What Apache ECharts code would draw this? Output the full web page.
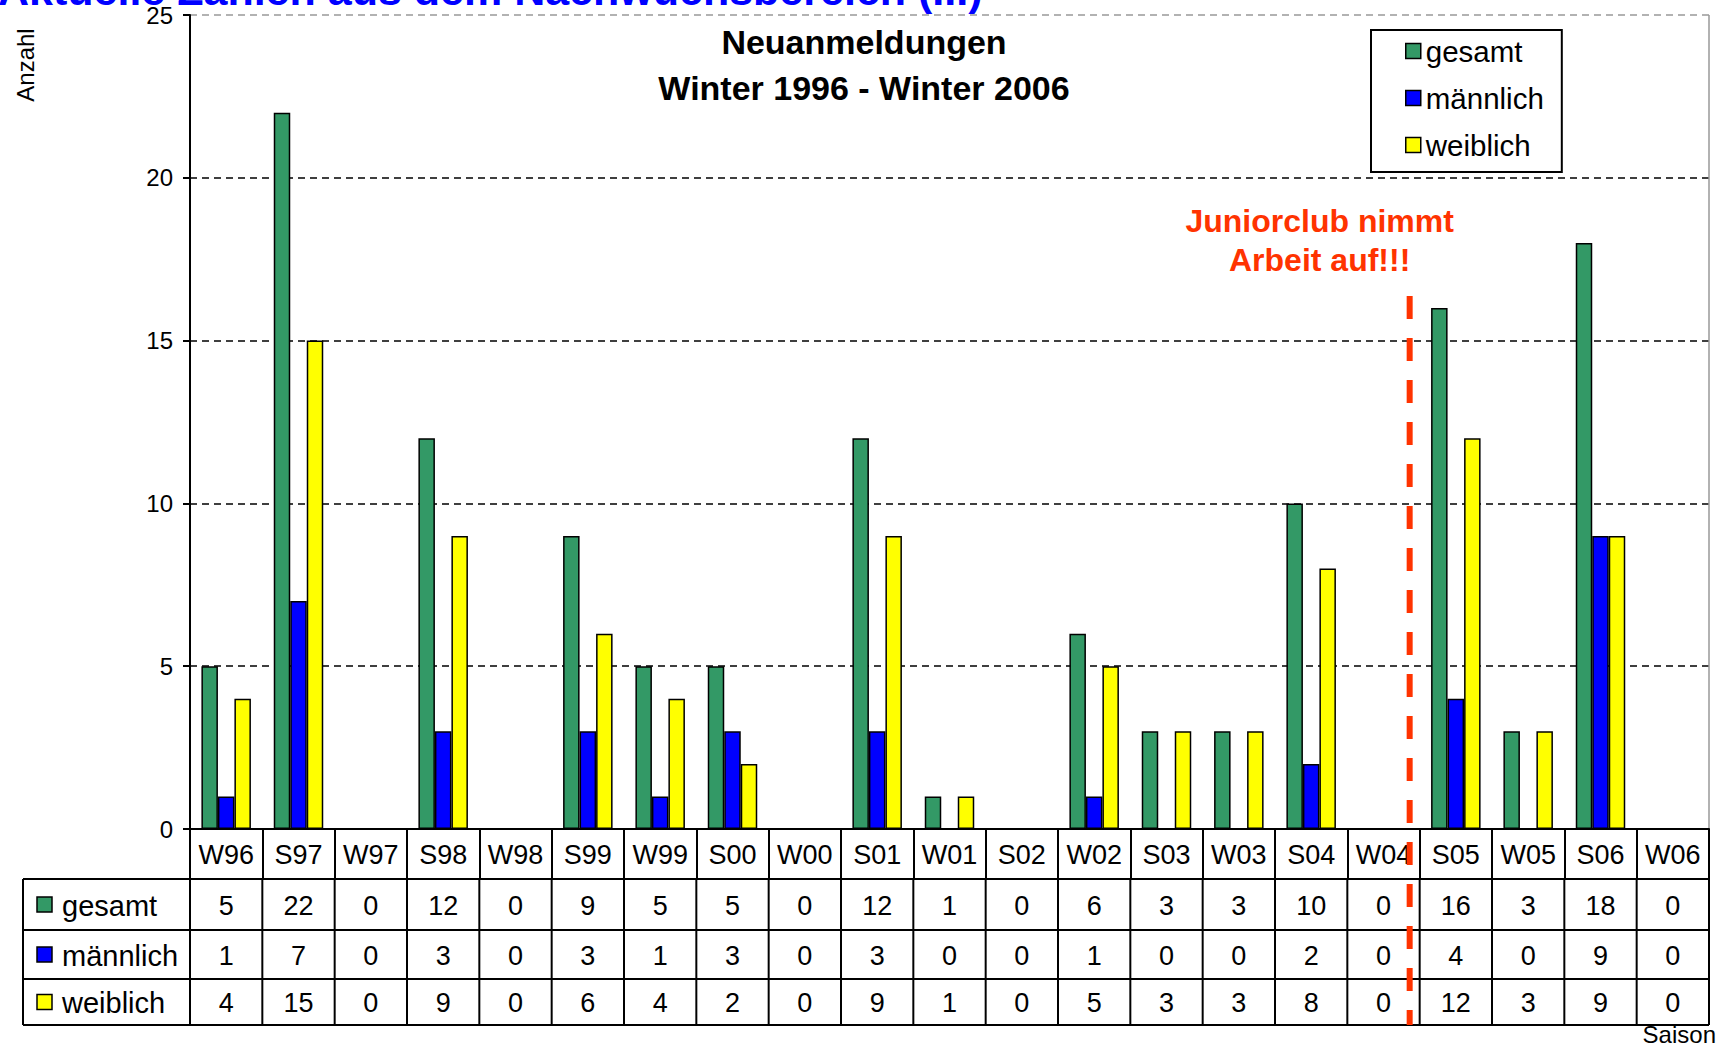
<!DOCTYPE html>
<html><head><meta charset="utf-8">
<script src="https://cdn.jsdelivr.net/npm/echarts@6/dist/echarts.min.js"></script>
<style>html,body{margin:0;padding:0;background:#fff;overflow:hidden}#c{width:1718px;height:1047px}</style>
</head><body><div id="c"></div>
<script>
const categories = ['W96','S97','W97','S98','W98','S99','W99','S00','W00','S01','W01','S02','W02','S03','W03','S04','W04','S05','W05','S06','W06'];
const gesamt    = [5,22,0,12,0,9,5,5,0,12,1,0,6,3,3,10,0,16,3,18,0];
const maennlich = [1,7,0,3,0,3,1,3,0,3,0,0,1,0,0,2,0,4,0,9,0];
const weiblich  = [4,15,0,9,0,6,4,2,0,9,1,0,5,3,3,8,0,12,3,9,0];
const seriesNames = ['gesamt','männlich','weiblich'];
const yMin = 0, yMax = 25, yStep = 5;
const pageTitle = 'Aktuelle Zahlen aus dem Nachwuchsbereich (III)';
const chartTitle = ['Neuanmeldungen','Winter 1996 - Winter 2006'];
const noteText = ['Juniorclub nimmt','Arbeit auf!!!'];
const noteCategory = 'S05';
const yName = 'Anzahl';
const xName = 'Saison';

const colors = ['#339966','#0000FF','#FFFF00'];
const FONT = '"Liberation Sans", Arial, sans-serif';
const values = [gesamt, maennlich, weiblich];
const chart = echarts.init(document.getElementById('c'), null, {renderer:'svg'});

const option = {
  animation:false,
  textStyle:{fontFamily:FONT},
  grid:{left:190, right:9, top:15, bottom:218, containLabel:false},
  legend:{
    orient:'vertical', left:1371, top:30, padding:[6,18,12,34], itemGap:17,
    itemWidth:15, itemHeight:15, icon:'rect', borderColor:'#000', borderWidth:2,
    backgroundColor:'#fff', selectedMode:false,
    textStyle:{fontSize:29.5, color:'#000', lineHeight:30, fontFamily:FONT},
    itemStyle:{borderColor:'#000', borderWidth:1.5},
    data:seriesNames
  },
  xAxis:{
    type:'category', data:categories,
    axisLine:{lineStyle:{color:'#000', width:2}},
    axisTick:{show:true, alignWithLabel:false, length:50, lineStyle:{color:'#000', width:2}},
    axisLabel:{color:'#000', fontSize:27, margin:12, interval:0, fontFamily:FONT},
    splitLine:{show:false}
  },
  yAxis:{
    type:'value', min:yMin, max:yMax, interval:yStep,
    axisLine:{show:true, lineStyle:{color:'#000', width:2}},
    axisTick:{show:true, length:7, lineStyle:{color:'#000', width:2}},
    axisLabel:{color:'#000', fontSize:24, margin:17, fontFamily:FONT},
    splitLine:{show:true, lineStyle:{color:['#000','#000','#000','#000','#000','#999'], width:1.5, type:[7,5]}}
  },
  series: seriesNames.map((n,i)=>({
    name:n, type:'bar', data:values[i], barWidth:16.5, barGap:'0%',
    itemStyle:{color:colors[i], borderColor:'#000', borderWidth:1.5}
  }))
};
chart.setOption(option);

function txt(text, x, y, opts){
  return {type:'text', x:x, y:y, silent:true,
    style:Object.assign({text:text, fill:'#000', fontFamily:FONT, fontSize:26,
      textAlign:'center', textVerticalAlign:'middle', align:'center', verticalAlign:'middle'}, opts||{})};
}
function line(x1,y1,x2,y2,stroke,w,dash){
  const s = {stroke:stroke, lineWidth:w};
  if (dash) s.lineDash = dash;
  return {type:'line', silent:true, shape:{x1:x1,y1:y1,x2:x2,y2:y2}, style:s};
}

function build(){
  const c0 = chart.convertToPixel({xAxisIndex:0}, categories[0]);
  const c1 = chart.convertToPixel({xAxisIndex:0}, categories[1]);
  const band = c1 - c0;
  const leftX = c0 - band/2;
  const rightX = leftX + band*categories.length;
  const yZero = chart.convertToPixel({yAxisIndex:0}, yMin);
  const yTop = chart.convertToPixel({yAxisIndex:0}, yMax);
  const tableLeft = 23;
  const rowEdges = [yZero+50, yZero+101, yZero+150, yZero+196];
  const els = [];
  els.push(line(rightX, yTop, rightX, yZero, '#999', 1.5));
  rowEdges.forEach(y=>els.push(line(tableLeft, y, rightX, y, '#000', 2)));
  els.push(line(tableLeft, rowEdges[0], tableLeft, rowEdges[3], '#000', 2));
  for (let k=0;k<=categories.length;k++){
    const x = leftX + k*band;
    els.push(line(x, rowEdges[0], x, rowEdges[3], '#000', 2));
  }
  els.push(line(rightX, yZero, rightX, rowEdges[0], '#000', 2));
  for (let r=0;r<3;r++){
    const yc = (rowEdges[r]+rowEdges[r+1])/2;
    els.push({type:'rect', silent:true, shape:{x:37, y:yc-7.5, width:15, height:15},
      style:{fill:colors[r], stroke:'#000', lineWidth:1.5}});
    els.push(txt(seriesNames[r], 62, yc+1, {fontSize:29, textAlign:'left', align:'left'}));
    values[r].forEach((v,i)=>{
      const xc = chart.convertToPixel({xAxisIndex:0}, categories[i]);
      els.push(txt(String(v), xc, yc+1, {fontSize:27}));
    });
  }
  const nc = chart.convertToPixel({xAxisIndex:0}, noteCategory);
  const lx = nc - band/2 - 10;
  els.push({type:'line', silent:true, z:50, shape:{x1:lx, y1:296, x2:lx, y2:rowEdges[3]},
    style:{stroke:'#FF3300', lineWidth:6, lineDash:[23,19]}});
  els.push(txt(noteText[0], lx-90, 221, {fill:'#FF3300', fontWeight:'bold', fontSize:32}));
  els.push(txt(noteText[1], lx-90, 260, {fill:'#FF3300', fontWeight:'bold', fontSize:32}));
  els.push(txt(chartTitle[0], 864, 42, {fontWeight:'bold', fontSize:34}));
  els.push(txt(chartTitle[1], 864, 88, {fontWeight:'bold', fontSize:34}));
  els.push(txt(pageTitle, -2, 11, {fill:'#0000FF', fontWeight:'bold', fontSize:43, textAlign:'left', align:'left', textVerticalAlign:'bottom', verticalAlign:'bottom'}));
  els.push(Object.assign(txt(yName, 25, 65, {fontSize:24}), {rotation:Math.PI/2}));
  els.push(txt(xName, 1716, 1034, {fontSize:24, textAlign:'right', align:'right'}));
  chart.setOption({graphic:{elements:els}});
}
build();
</script>
</body></html>
